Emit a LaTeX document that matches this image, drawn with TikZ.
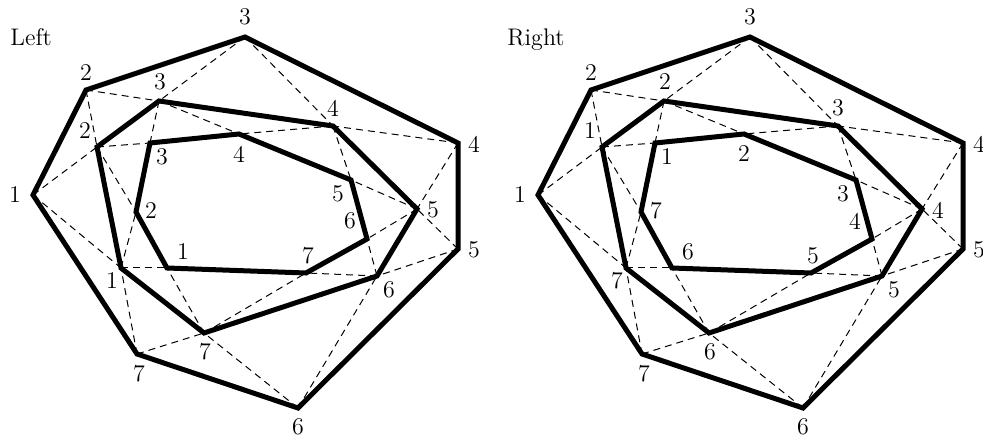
\documentclass[tikz,border=0pt]{standalone}
\begin{document}
\begin{tikzpicture}[x=0.5pt,y=-0.5pt,
  layer/.style={line width=2.5pt},
  link/.style={line width=0.5pt, dash pattern=on 3.5pt off 2.5pt},
  lbl/.style={font=\large, inner sep=0pt},
  ttl/.style={font=\large, inner sep=0pt, anchor=base west}]
\useasboundingbox (0,0) rectangle (983,437);
\node[ttl] (tL) at (10,46) {Left};
\node[ttl] (tR) at (507,46) {Right};
\foreach \P/\dx/\s in {L/0/0, R/505/1}{
 \begin{scope}[shift={(\dx,0)}]
  % outer layer
  \foreach \i/\x/\y/\lx/\ly in {1/33/195/15/195, 2/86/90/86/73, 3/245/37/245/17,
      4/458/143/474/144, 5/458/249/474/250, 6/298/408/298/427, 7/137/354/139/374}{
    \coordinate (\P O\i) at (\x,\y);
    \node[lbl] (\P Ol\i) at (\lx,\ly) {\i};
  }
  % middle layer
  \foreach \i/\x/\y/\lx/\ly in {1/121/268/112/281, 2/97/147/85/131, 3/159/101/160/82,
      4/333/126/333/108, 5/417/209/433/210, 6/377/276/389/290, 7/204/333/205/352}{
    \pgfmathtruncatemacro\m{Mod(\i-1-\s,7)+1}
    \coordinate (\P M\i) at (\x,\y);
    \node[lbl] (\P Ml\i) at (\lx,\ly) {\m};
  }
  % inner layer
  \foreach \i/\x/\y/\lx/\ly in {1/167/268/183/252, 2/136/212/151/211, 3/150/143/162/157,
      4/239/134/239/154, 5/351/180/338/194, 6/367/239/350/221, 7/306/273/308/256}{
    \pgfmathtruncatemacro\m{Mod(\i-1-2*\s,7)+1}
    \coordinate (\P I\i) at (\x,\y);
    \node[lbl] (\P Il\i) at (\lx,\ly) {\m};
  }
  \foreach \i in {1,...,7}{
    \pgfmathtruncatemacro\j{mod(\i,7)+1}
    \draw[link] (\P O\i) -- (\P M\i);
    \draw[link] (\P O\i) -- (\P M\j);
    \draw[link] (\P M\i) -- (\P I\i);
    \draw[link] (\P M\i) -- (\P I\j);
  }
  \draw[layer] (\P O1) -- (\P O2) -- (\P O3) -- (\P O4) -- (\P O5) -- (\P O6) -- (\P O7) -- cycle;
  \draw[layer] (\P M1) -- (\P M2) -- (\P M3) -- (\P M4) -- (\P M5) -- (\P M6) -- (\P M7) -- cycle;
  \draw[layer] (\P I1) -- (\P I2) -- (\P I3) -- (\P I4) -- (\P I5) -- (\P I6) -- (\P I7) -- cycle;
 \end{scope}
}
\end{tikzpicture}
\end{document}
